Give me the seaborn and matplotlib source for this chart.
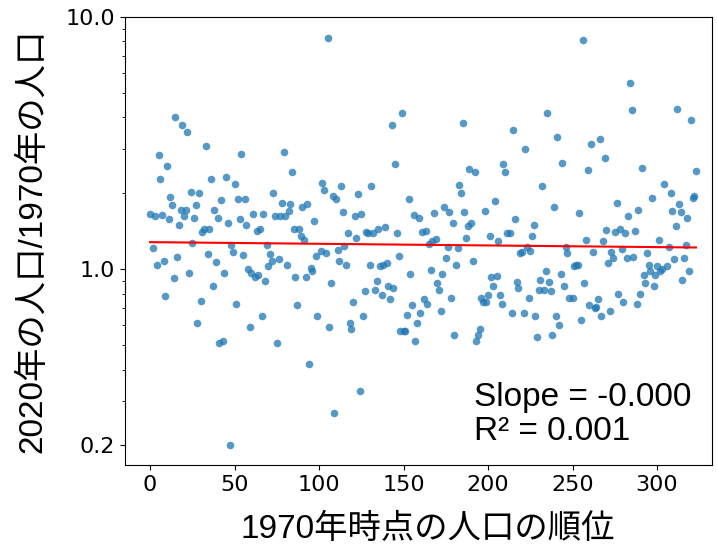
import numpy as np
import pandas as pd
import matplotlib
matplotlib.use("Agg")
import matplotlib.pyplot as plt
import seaborn as sns
from matplotlib.ticker import FixedLocator, FixedFormatter, NullFormatter

# 1970 rank of each municipality (x) and ratio of 2020 / 1970 population (y)
rank = [
    0, 2, 3, 4, 5, 6, 7, 8, 9, 10, 11, 12, 13, 14, 15, 16, 17, 18, 19, 20,
    21, 22, 23, 24, 25, 26, 27, 28, 29, 30, 31, 32, 33, 34, 35, 36, 37, 38, 39, 40,
    41, 42, 43, 44, 45, 46, 47, 48, 49, 50, 51, 52, 53, 54, 55, 56, 57, 58, 59, 60,
    61, 62, 63, 64, 65, 66, 67, 68, 69, 70, 71, 72, 73, 74, 75, 76, 77, 78, 79, 80,
    81, 82, 83, 84, 85, 86, 87, 88, 89, 90, 91, 92, 93, 94, 95, 96, 97, 98, 99,
    101, 102, 103, 104, 105, 106, 107, 108, 109, 110, 111, 112, 113, 114, 115, 116, 117, 118, 119, 120,
    121, 122, 123, 124, 125, 126, 127, 128, 129, 130, 131, 132, 133, 134, 135, 136, 137, 138, 139, 140,
    141, 142, 143, 144, 145, 146, 147, 148, 149, 150, 151, 152, 153, 154, 155, 156,
    157, 158, 159, 160, 161, 162, 163, 164, 165, 166, 167, 168, 169, 170, 171, 172, 173, 174, 175, 176,
    177, 178, 179, 180, 181, 182, 183, 184, 185, 186, 187, 188, 189, 190, 191, 192, 193, 194, 195, 196,
    197, 198, 199, 200, 201, 202, 203, 204, 205, 206, 207, 208, 209, 210, 211,
    213, 214, 215, 216, 217, 218, 219, 220, 221, 222, 223, 224, 225, 226, 227, 228, 229, 230, 231, 232,
    233, 234, 235, 236, 237, 238, 239, 240, 241, 242, 243, 244, 245, 246, 247, 248,
    250, 251, 252, 253, 254, 255, 256, 257, 258, 259, 260, 261, 262, 263, 264, 265, 266, 267, 268,
    269, 270, 271, 272, 273, 274, 275, 276, 277, 278, 279, 280, 281, 282, 283, 284, 285, 286, 287, 288,
    289, 290, 291, 292, 293, 294, 295, 296, 297, 298, 299, 300, 301, 302, 303, 304,
    306, 307, 308, 309, 310, 311, 312, 313, 314, 315, 316, 317, 318, 319, 320, 321, 322, 323,
]

ratio = [
    1.66, 1.21, 1.63, 1.04, 2.83, 2.27, 1.64, 1.08, 0.78, 2.56, 1.58, 1.94, 1.79, 0.92, 4.02, 1.12, 1.50, 1.72, 3.73, 1.62,
    1.72, 3.49, 0.97, 2.02, 1.27, 1.59, 1.79, 0.61, 2.01, 0.75, 1.40, 1.45, 3.08, 1.15, 1.44, 2.27, 0.86, 1.71, 1.07, 1.60,
    0.51, 1.88, 0.52, 0.97, 2.32, 1.52, 0.20, 1.25, 1.17, 2.17, 0.73, 1.89, 1.58, 2.85, 1.14, 1.90, 1.50, 1.00, 0.59, 0.97,
    1.65, 0.93, 1.42, 0.95, 1.45, 0.65, 1.65, 0.90, 1.25, 1.03, 1.15, 1.08, 2.00, 1.63, 0.51, 1.10, 1.63, 1.83, 2.92, 1.63,
    1.04, 1.70, 1.81, 2.43, 1.44, 0.93, 0.72, 1.44, 1.36, 1.77, 1.30, 0.93, 1.81, 0.42, 1.01, 0.98, 1.55, 1.13, 0.65,
    1.18, 2.19, 2.07, 1.16, 8.25, 0.59, 0.88, 1.95, 0.27, 1.89, 1.19, 1.08, 2.13, 1.68, 1.24, 1.04, 1.39, 0.61, 0.58, 0.74,
    1.63, 1.33, 1.98, 0.33, 1.65, 0.65, 0.82, 1.40, 1.39, 1.04, 2.13, 1.39, 0.83, 0.90, 1.45, 1.03, 0.79, 1.04, 1.47, 1.06,
    0.86, 0.76, 3.73, 0.84, 2.61, 1.39, 1.13, 0.57, 4.16, 0.57, 0.57, 0.66, 1.90, 0.96, 0.72, 1.64,
    0.52, 0.61, 1.59, 0.67, 1.40, 0.76, 1.42, 0.73, 1.26, 0.99, 1.29, 1.67, 1.32, 0.88, 0.83, 0.68, 0.96, 1.76, 1.11, 1.22,
    1.68, 0.77, 1.52, 0.55, 1.04, 1.21, 2.15, 2.00, 3.79, 1.68, 1.33, 1.48, 2.49, 1.53, 1.08, 2.43, 0.52, 0.55, 0.58, 0.77,
    0.74, 1.70, 0.74, 0.79, 1.36, 0.93, 0.86, 1.87, 0.94, 1.29, 0.79, 0.73, 2.61, 2.43, 1.39,
    1.39, 0.67, 3.58, 1.58, 0.89, 0.84, 1.16, 1.17, 0.67, 3.01, 1.22, 0.77, 1.18, 1.35, 1.50, 0.65, 0.54, 0.83, 0.91, 2.14,
    0.83, 0.98, 4.16, 0.89, 0.82, 0.55, 1.77, 0.65, 3.35, 0.60, 0.96, 2.64, 0.86, 1.22, 1.16, 0.77,
    0.77, 1.03, 1.04, 1.04, 1.67, 0.63, 8.11, 0.88, 1.31, 2.48, 0.72, 3.13, 1.17, 0.70, 0.71, 0.76, 3.28, 0.65, 1.29,
    2.76, 1.43, 1.06, 0.68, 1.17, 1.11, 1.40, 1.83, 0.80, 1.45, 1.20, 0.74, 1.39, 1.11, 1.62, 5.46, 4.28, 1.12, 1.42, 0.73,
    1.72, 0.80, 2.52, 0.95, 0.88, 1.16, 1.04, 0.98, 1.92, 0.86, 0.95, 1.03, 1.30, 0.98, 1.00, 2.17,
    1.03, 1.23, 2.00, 1.70, 1.10, 1.48, 4.30, 1.82, 1.68, 0.91, 1.11, 1.25, 1.59, 0.98, 3.91, 1.92, 1.95, 2.46,
]

y_ticks = [0.2, 1.0, 10.0]
y_tick_labels = ["0.2", "1.0", "10.0"]
x_label = "1970年時点の人口の順位"
y_label = "2020年の人口/1970年の人口"
stats_text = "Slope = -0.000\nR² = 0.001"

df = pd.DataFrame({"rank": rank, "ratio": ratio})

# least-squares fit in log space (straight line on the log axis)
slope, intercept = np.polyfit(df["rank"], np.log10(df["ratio"]), 1)
fit = pd.DataFrame({"rank": [df["rank"].min(), df["rank"].max()]})
fit["ratio"] = 10 ** (intercept + slope * fit["rank"])

fig = plt.figure(figsize=(7.17, 5.48), dpi=100)
ax = fig.add_subplot(111)
fig.subplots_adjust(left=0.174, right=0.993, top=0.969, bottom=0.151)

sns.scatterplot(data=df, x="rank", y="ratio", ax=ax, s=30, alpha=0.75,
                linewidth=0, color="#1f77b4")
sns.lineplot(data=fit, x="rank", y="ratio", ax=ax, color="red", lw=1.5)

ax.set_yscale("log")
ax.set_ylim(0.167, 10.0)
ax.set_xlim(-15, 332.5)
ax.yaxis.set_major_locator(FixedLocator(y_ticks))
ax.yaxis.set_major_formatter(FixedFormatter(y_tick_labels))
ax.yaxis.set_minor_formatter(NullFormatter())
ax.tick_params(axis="both", which="major", labelsize=16)

lab_font = ["Liberation Sans", "Noto Sans CJK JP", "DejaVu Sans"]
ax.set_xlabel(x_label, fontsize=24, family=lab_font)
ax.set_ylabel(y_label, fontsize=24, family=lab_font)
ax.xaxis.set_label_coords(0.516, -0.108)
ax.yaxis.set_label_coords(-0.13, 0.5)

ax.text(0.595, 0.04, stats_text, transform=ax.transAxes, fontsize=24,
        family=lab_font, ha="left", va="bottom", linespacing=1.15)

fig.savefig("out.png", dpi=100)
